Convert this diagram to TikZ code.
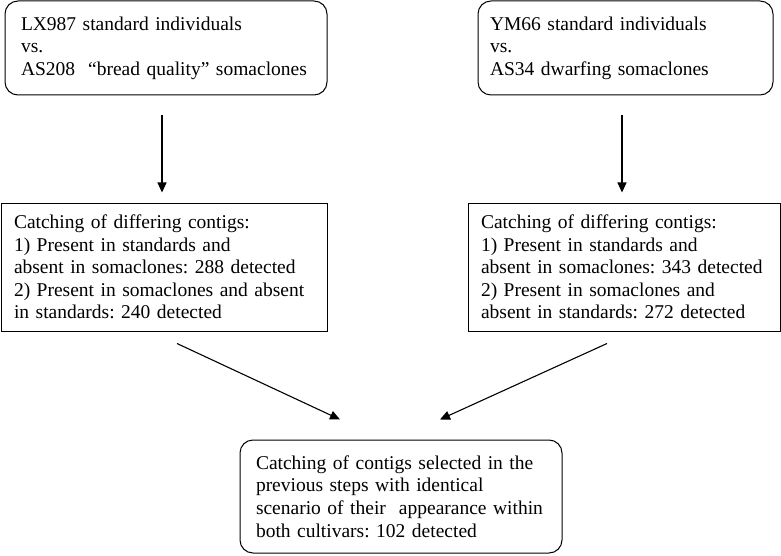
\documentclass[tikz,border=0pt]{standalone}
\usepackage{fontspec}
\setmainfont{Liberation Serif}
\usetikzlibrary{arrows.meta}
\frenchspacing

\begin{document}
\begin{tikzpicture}[x=1pt,y=-1pt,
    txt/.style={font=\fontsize{19.5}{22.6}\selectfont, align=left, inner ysep=0pt},
    pairbox/.style={txt, draw, line width=1pt, rounded corners=13pt},
    catchbox/.style={txt, draw, line width=1pt},
    flowarrow/.style={line width=1.1pt, -{Triangle[length=10pt,width=9pt]}}]
    \useasboundingbox (0,0) rectangle (781,556);% page frame
    % the two cultivar pairs
    \node[pairbox, minimum width=322pt, minimum height=94pt, text width=290pt, inner xsep=16pt]
      (lxpair) at (166,48) {LX987 standard individuals\\vs.\\AS208\ \ “bread quality” somaclones};
    \node[pairbox, minimum width=295pt, minimum height=94pt, text width=271pt, inner xsep=12pt]
      (ympair) at (625.5,48) {YM66 standard individuals\\vs.\\AS34 dwarfing somaclones};
    % differing contigs
    \node[catchbox, minimum width=326pt, minimum height=128pt, text width=300pt, inner xsep=13pt]
      (lxcatch) at (164,267) {Catching of differing contigs:\\1) Present in standards and\\absent in somaclones: 288 detected\\2) Present in somaclones and absent\\in standards: 240 detected};
    \node[catchbox, minimum width=312pt, minimum height=128pt, text width=286pt, inner xsep=13pt]
      (ymcatch) at (624,267) {Catching of differing contigs:\\1) Present in standards and\\absent in somaclones: 343 detected\\2) Present in somaclones and\\absent in standards: 272 detected};
    % common contigs
    \node[pairbox, minimum width=322pt, minimum height=113pt, text width=290pt, inner xsep=16pt]
      (common) at (401,496.5) {Catching of contigs selected in the\\previous steps with identical\\scenario of their\ \ appearance within\\both cultivars: 102 detected};
    \draw[flowarrow, shorten <=20pt, shorten >=10pt] ([xshift=-4pt]lxpair.south)
        -- ([xshift=-4pt]lxpair.south |- lxcatch.north);
    \draw[flowarrow, shorten <=20pt, shorten >=10pt] ([xshift=-3.5pt]ympair.south)
        -- ([xshift=-3.5pt]ympair.south |- ymcatch.north);
    \draw[flowarrow] ([xshift=13pt,yshift=-12pt]lxcatch.south)
        -- ([xshift=-61pt,yshift=20pt]common.north);
    \draw[flowarrow] ([xshift=-17pt,yshift=-12pt]ymcatch.south)
        -- ([xshift=39pt,yshift=20pt]common.north);
  \end{tikzpicture}
\end{document}
